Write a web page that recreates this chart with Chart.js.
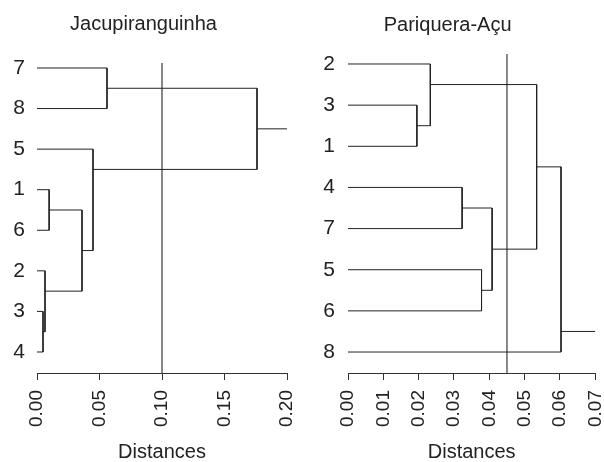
<!DOCTYPE html>
<html>
<head>
<meta charset="utf-8">
<script src="https://cdn.jsdelivr.net/npm/chart.js@4.4.1/dist/chart.umd.min.js"></script>
<style>
html, body { margin: 0; padding: 0; background: #fff; }
#wrap { position: relative; width: 604px; height: 462px; }
canvas { position: absolute; top: 0; }
</style>
</head>
<body>
<div id="wrap">
  <canvas id="left" width="300" height="462" style="left:0"></canvas>
  <canvas id="right" width="304" height="462" style="left:300px"></canvas>
</div>
<script>
// --- Jacupiranguinha ---
const titleL = 'Jacupiranguinha';
const orderL = [7, 8, 5, 1, 6, 2, 3, 4];
// merges like R's hclust: negative = leaf, positive = earlier merge
const mergeL = [[-3, -4], [-1, -6], [-7, -8], [-2, 1], [2, 4], [-5, 5], [3, 6]];
const heightL = [0.0048, 0.0097, 0.056, 0.0064, 0.036, 0.0448, 0.176];
const cutL = 0.10;
const ticksL = [0, 0.05, 0.10, 0.15, 0.20];

// --- Pariquera-Açu ---
const titleR = 'Pariquera-Açu';
const orderR = [2, 3, 1, 4, 7, 5, 6, 8];
const mergeR = [[-3, -1], [-2, 1], [-4, -7], [-5, -6], [3, 4], [2, 5], [6, -8]];
const heightR = [0.0195, 0.0233, 0.0323, 0.0378, 0.0408, 0.0534, 0.0603];
const cutR = 0.045;
const ticksR = [0, 0.01, 0.02, 0.03, 0.04, 0.05, 0.06, 0.07];

const FONT = "'Liberation Sans', Arial, Helvetica, sans-serif";
const LINE = '#222';

function layout(order, merge, height) {
    const nodes = [];
    const get = k => {
        if (k < 0) {
            const p = order.indexOf(-k);
            return { y: p, h: 0, lo: p, hi: p, leaf: true };
        }
        return nodes[k - 1];
    };
    const segs = [];
    merge.forEach((m, i) => {
        const a = get(m[0]), b = get(m[1]);
        const h = height[i];
        let y;
        if (a.leaf !== b.leaf) {
            // leaf joined to a cluster: node sits between the leaf and its neighbour
            const leaf = a.leaf ? a : b, other = a.leaf ? b : a;
            const near = leaf.y < other.lo ? other.lo : other.hi;
            y = (leaf.y + near) / 2;
        } else {
            y = (a.y + b.y) / 2;
        }
        segs.push([{ x: a.h, y: a.y }, { x: h, y: a.y }, { x: h, y: b.y }, { x: b.h, y: b.y }]);
        nodes.push({ y: y, h: h, lo: Math.min(a.lo, b.lo), hi: Math.max(a.hi, b.hi), leaf: false });
    });
    return { segs: segs, root: nodes[nodes.length - 1] };
}

function makeChart(id, o) {
    const d = layout(o.order, o.merge, o.height);
    const xMax = o.ticks[o.ticks.length - 1];
    const datasets = d.segs.map(s => ({ data: s }));
    datasets.push({ data: [{ x: d.root.h, y: d.root.y }, { x: xMax, y: d.root.y }] });
    datasets.forEach(ds => Object.assign(ds, { borderColor: LINE, borderWidth: 1 }));
    datasets.push({ data: [{ x: o.cut, y: o.yMin }, { x: o.cut, y: o.yMax }], borderColor: '#555', borderWidth: 1.4 });
    datasets.forEach(ds => Object.assign(ds, { showLine: true, pointRadius: 0, tension: 0, fill: false }));

    return new Chart(document.getElementById(id), {
        type: 'scatter',
        data: { datasets: datasets },
        options: {
            responsive: false,
            animation: false,
            events: [],
            layout: { padding: { left: 0, right: o.padRight, top: 0, bottom: 0 } },
            plugins: {
                legend: { display: false },
                tooltip: { enabled: false },
                title: {
                    display: true,
                    text: o.title,
                    color: '#222',
                    font: { family: FONT, size: 20, weight: 'normal', lineHeight: 1.2 },
                    padding: o.titlePad
                }
            },
            scales: {
                x: {
                    type: 'linear',
                    min: o.ticks[0],
                    max: xMax,
                    afterBuildTicks: s => { s.ticks = o.ticks.map(v => ({ value: v })); },
                    afterFit: s => { s.height = 462 - o.areaBottom; s.paddingLeft = 0; s.paddingRight = 0; },
                    ticks: {
                        autoSkip: false,
                        minRotation: 90,
                        maxRotation: 90,
                        padding: 10,
                        color: '#222',
                        font: { family: FONT, size: 19 },
                        callback: v => Number(v).toFixed(2)
                    },
                    grid: { drawOnChartArea: false, drawTicks: true, tickLength: 7, color: '#333', lineWidth: 1 },
                    border: { display: true, color: '#333', width: 1 },
                    title: {
                        display: true,
                        text: 'Distances',
                        color: '#222',
                        font: { family: FONT, size: 20, lineHeight: 1 },
                        padding: 0
                    }
                },
                y: {
                    type: 'linear',
                    reverse: true,
                    min: o.yMin,
                    max: o.yMax,
                    afterBuildTicks: s => { s.ticks = o.order.map((_, i) => ({ value: i })); },
                    afterFit: s => { s.width = o.yWidth; s.paddingTop = 0; s.paddingBottom = 0; },
                    ticks: {
                        padding: o.labelPad,
                        color: '#222',
                        font: { family: FONT, size: 21 },
                        callback: v => String(o.order[Math.round(v)])
                    },
                    grid: { display: false, drawTicks: false },
                    border: { display: false }
                }
            }
        }
    });
}

makeChart('left', {
    title: titleL, order: orderL, merge: mergeL, height: heightL, cut: cutL, ticks: ticksL,
    yMin: -0.123, yMax: 7.518, yWidth: 37, padRight: 13, labelPad: 12,
    titlePad: { top: 12.7, bottom: 26.3 }, areaBottom: 373
});
makeChart('right', {
    title: titleR, order: orderR, merge: mergeR, height: heightR, cut: cutR, ticks: ticksR,
    yMin: -0.243, yMax: 7.51, yWidth: 48, padRight: 8.7, labelPad: 13,
    titlePad: { top: 13.7, bottom: 16.3 }, areaBottom: 373
});
</script>
</body>
</html>
